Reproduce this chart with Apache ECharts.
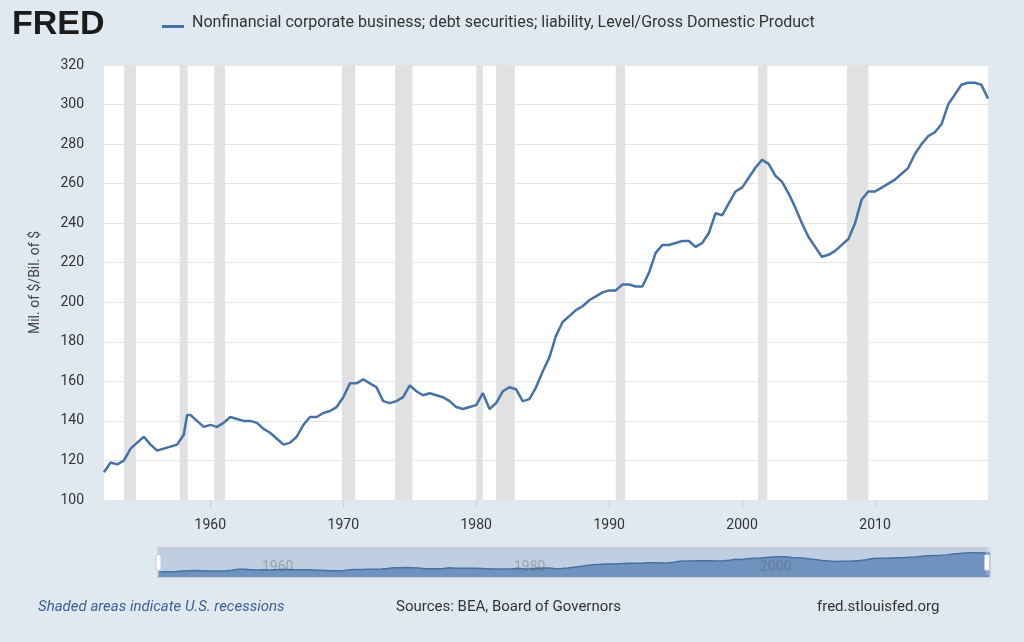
<!DOCTYPE html>
<html><head><meta charset="utf-8">
<script src="https://cdn.jsdelivr.net/npm/echarts@6/dist/echarts.min.js"></script>
<style>html,body{margin:0;padding:0;background:#e1e9f0;}#c{width:1024px;height:642px;}</style>
</head><body><div id="c"></div>
<script>
const years = [1952,1952.5,1953,1953.5,1954,1954.5,1955,1955.5,1956,1956.5,1957,1957.5,1958,1958.25,1958.5,1959,1959.5,1960,1960.5,1961,1961.5,1962,1962.5,1963,1963.5,1964,1964.5,1965,1965.5,1966,1966.5,1967,1967.5,1968,1968.5,1969,1969.5,1970,1970.5,1971,1971.5,1972,1972.5,1973,1973.5,1974,1974.5,1975,1975.5,1976,1976.5,1977,1977.5,1978,1978.5,1979,1979.5,1980,1980.5,1981,1981.5,1982,1982.5,1983,1983.5,1984,1984.5,1985,1985.5,1986,1986.5,1987,1987.5,1988,1988.5,1989,1989.5,1990,1990.5,1991,1991.5,1992,1992.5,1993,1993.5,1994,1994.5,1995,1995.5,1996,1996.5,1997,1997.5,1998,1998.5,1999,1999.5,2000,2000.5,2001,2001.5,2002,2002.5,2003,2003.5,2004,2004.5,2005,2005.5,2006,2006.5,2007,2007.5,2008,2008.5,2009,2009.5,2010,2010.5,2011,2011.5,2012,2012.5,2013,2013.5,2014,2014.5,2015,2015.5,2016,2016.5,2017,2017.5,2018,2018.5];
const values = [114,119,118,120,126,129,132,128,125,126,127,128,133,143,143,140,137,138,137,139,142,141,140,140,139,136,134,131,128,129,132,138,142,142,144,145,147,152,159,159,161,159,157,150,149,150,152,158,155,153,154,153,152,150,147,146,147,148,154,146,149,155,157,156,150,151,157,165,172,183,190,193,196,198,201,203,205,206,206,209,209,208,208,215,225,229,229,230,231,231,228,230,235,245,244,250,256,258,263,268,272,270,264,261,255,248,240,233,228,223,224,226,229,232,240,252,256,256,258,260,262,265,268,275,280,284,286,290,300,305,310,311,311,310,303];
const recessions = [[1953.5,1954.4],[1957.7,1958.3],[1960.3,1961.1],[1969.9,1970.9],[1973.9,1975.2],[1980.0,1980.5],[1981.5,1982.9],[1990.5,1991.2],[2001.2,2001.9],[2007.9,2009.5]];
const xTicks = [1960,1970,1980,1990,2000,2010];
const yTicks = {min:100, max:320, interval:20};

const chart = echarts.init(document.getElementById('c'));
const font = 'Roboto, "Open Sans", sans-serif';
chart.setOption({
  backgroundColor:'#e1e9f0',
  animation:false,
  graphic:[
    {type:'text',left:12,top:8,style:{text:'FRED',font:'bold 34px "Liberation Sans", Arial',fill:'#1b1b1b'}},
    {type:'rect',left:162,top:25,shape:{width:22,height:3},style:{fill:'#4572a7'}},
    {type:'text',left:192,top:15,style:{text:'Nonfinancial corporate business; debt securities; liability, Level/Gross Domestic Product',font:'16px '+font,fill:'#333'}},
    {type:'text',left:38,top:600,style:{text:'Shaded areas indicate U.S. recessions',font:'italic 15px '+font,fill:'#3b5f9a'}},
    {type:'text',left:396,top:600,style:{text:'Sources: BEA, Board of Governors',font:'15px '+font,fill:'#333'}},
    {type:'text',left:817,top:600,style:{text:'fred.stlouisfed.org',font:'15px '+font,fill:'#333'}},
    {type:'text',left:262,top:560,z:100,style:{text:'1960',font:'14px '+font,fill:'rgba(80,80,80,0.35)'}},
    {type:'text',left:514,top:560,z:100,style:{text:'1980',font:'14px '+font,fill:'rgba(80,80,80,0.35)'}},
    {type:'text',left:760,top:560,z:100,style:{text:'2000',font:'14px '+font,fill:'rgba(80,80,80,0.35)'}}
  ],
  grid:{left:104,right:36,top:65,bottom:142,backgroundColor:'#fff',show:true,borderWidth:0},
  xAxis:{type:'value',min:1952,max:2018.7,
    axisLine:{show:false},
    axisTick:{show:true,length:8,customValues:xTicks,lineStyle:{color:'#c0d0e0'}},
    axisLabel:{color:'#333',fontSize:14,fontFamily:font,margin:18,customValues:xTicks,formatter:v=>String(v)},
    splitLine:{show:false}},
  yAxis:{type:'value',min:yTicks.min,max:yTicks.max,interval:yTicks.interval,
    name:'Mil. of $/Bil. of $',nameLocation:'middle',nameGap:62,
    nameTextStyle:{color:'#444',fontSize:14,fontFamily:font},
    axisLine:{show:false},axisTick:{show:false},
    axisLabel:{color:'#333',fontSize:14,fontFamily:font,margin:20},
    splitLine:{lineStyle:{color:'#e6e6e6'}}},
  dataZoom:[{type:'slider',left:155,right:36,top:547,height:31,startValue:1952,endValue:2018.5,
    showDetail:false,borderColor:'#ccc',backgroundColor:'#e8edf3',
    fillerColor:'rgba(69,114,167,0.25)',
    dataBackground:{lineStyle:{color:'#4572a7',width:1.5},areaStyle:{color:'#7f9cc6',opacity:1}},
    selectedDataBackground:{lineStyle:{color:'#4572a7',width:1.5},areaStyle:{color:'#7f9cc6',opacity:1}},
    handleSize:'80%',moveHandleSize:0,brushSelect:false}],
  series:[{type:'line',data:years.map((y,i)=>[y,values[i]]),showSymbol:false,
    lineStyle:{color:'#4572a7',width:2.5},itemStyle:{color:'#4572a7'},
    markArea:{silent:true,itemStyle:{color:'#e1e1e1'},data:recessions.map(r=>[{xAxis:r[0]},{xAxis:r[1]}])}}]
});
</script></body></html>
